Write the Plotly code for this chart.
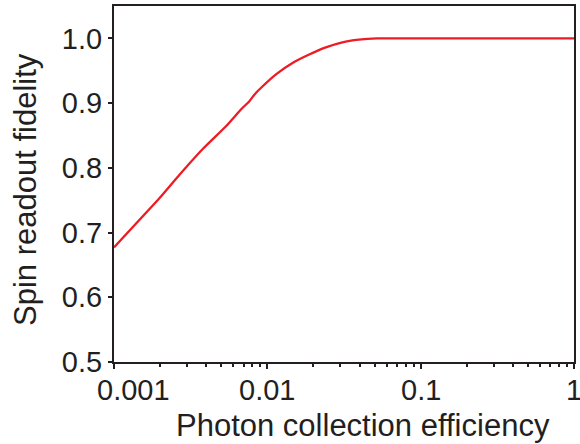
import numpy as np
import plotly.graph_objects as go

# Data
efficiency = [0.001, 0.00199, 0.002683, 0.003802, 0.005393, 0.006749, 0.007641,
              0.00823, 0.009322, 0.011388, 0.0146, 0.018738, 0.024058, 0.030832,
              0.039573, 0.05202, 0.1, 0.3, 1.0]
fidelity = [0.677, 0.7536, 0.7896, 0.8294, 0.8646, 0.8904, 0.903,
            0.913, 0.926, 0.9445, 0.962, 0.975, 0.986, 0.9939,
            0.998, 1.0, 1.0, 1.0, 1.0]

x_tickvals = [0.001, 0.01, 0.1, 1]
x_ticktext = ["0.001", "0.01", "0.1", "1"]
x_label_shift = [19, 0, 0, 0]
y_tickvals = [0.5, 0.6, 0.7, 0.8, 0.9, 1.0]
x_minor = [m * 10.0 ** e for e in (-3, -2, -1) for m in range(2, 10)]

INK = "#231f20"
FONT = "Liberation Sans, Arial, sans-serif"

fig = go.Figure()
fig.add_trace(go.Scatter(
    x=efficiency, y=fidelity, mode="lines",
    line=dict(color="#ec1c24", width=2.3, shape="spline", smoothing=0.4),
    showlegend=False, hoverinfo="skip",
))

fig.update_xaxes(
    type="log", range=[np.log10(0.001), np.log10(1)],
    tickmode="array", tickvals=x_tickvals, showticklabels=False,
    ticks="outside", ticklen=5, tickwidth=1.5, tickcolor=INK,
    minor=dict(tickmode="array", tickvals=x_minor, ticks="outside",
               ticklen=3, tickwidth=1.5, tickcolor=INK, showgrid=False),
    showline=True, linecolor=INK, linewidth=2, mirror=True,
    showgrid=False, zeroline=False,
)
fig.update_yaxes(
    range=[0.5, 1.05], tickmode="array", tickvals=y_tickvals, tickformat=".1f",
    ticks="outside", ticklen=4, tickwidth=1.5, tickcolor=INK,
    tickfont=dict(family=FONT, size=29, color=INK),
    showline=True, linecolor=INK, linewidth=2, mirror=True,
    showgrid=False, zeroline=False,
)

annotations = []
for v, t, s in zip(x_tickvals, x_ticktext, x_label_shift):
    annotations.append(dict(
        x=np.log10(v), xref="x", y=0, yref="paper", text=t, showarrow=False,
        xanchor="center", yanchor="top", xshift=s, yshift=-10,
        font=dict(family=FONT, size=29, color=INK),
    ))
annotations.append(dict(
    x=(364 - 114) / (575 - 114), xref="paper", y=0, yref="paper",
    text="Photon collection efficiency",
    showarrow=False, xanchor="center", yanchor="top", yshift=-44,
    font=dict(family=FONT, size=31, color=INK),
))
annotations.append(dict(
    x=0, xref="paper", y=(362 - 189) / (362 - 4), yref="paper",
    text="Spin readout fidelity", showarrow=False, textangle=-90,
    xanchor="center", yanchor="middle", xshift=-88,
    font=dict(family=FONT, size=31, color=INK),
))

fig.update_layout(
    width=580, height=444,
    margin=dict(l=114, r=5, t=4, b=82),
    paper_bgcolor="white", plot_bgcolor="white",
    annotations=annotations,
)

fig.write_html(
    "out.html",
    config={"displayModeBar": False},
    post_script="document.body.style.margin='0';document.body.style.overflow='hidden';",
)
